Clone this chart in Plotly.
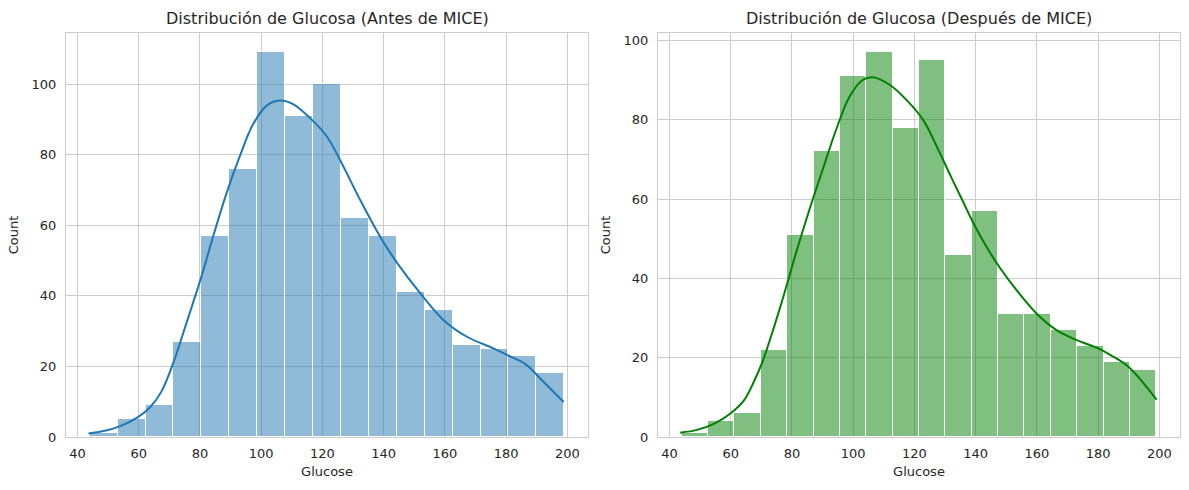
import numpy as np
import plotly.graph_objects as go

# ---- Data ----
glucose_min = 44
glucose_max = 199

counts_before = [1, 5, 9, 27, 57, 76, 109, 91, 100, 62, 57, 41, 36, 26, 25, 23, 18]
counts_after = [1, 4, 6, 22, 51, 72, 91, 97, 78, 95, 46, 57, 31, 31, 27, 23, 19, 17]

kde_before_x = [43.6, 48.6, 54.0, 59.5, 63.8, 67.5, 71.5, 75.6, 80.5, 84.3, 88.7, 93.0, 97.3,
                101.7, 106.0, 110.4, 115.9, 121.4, 126.8, 132.3, 139.5, 144.5, 152.0, 159.6,
                167.2, 175.9, 180.4, 186.1, 191.7, 198.8]
kde_before_y = [1.0, 1.7, 3.1, 5.5, 8.5, 13.0, 21.5, 32.3, 45.5, 56.8, 69.1, 79.5, 88.5,
                93.8, 95.3, 94.3, 90.4, 85.2, 76.7, 67.2, 55.8, 49.2, 40.7, 33.1,
                28.4, 25.1, 23.2, 20.8, 16.1, 9.9]

kde_after_x = [43.5, 49.0, 54.5, 60.0, 64.4, 67.6, 70.4, 72.6, 76.9, 81.3, 85.7, 90.0, 94.4,
               98.8, 103.1, 106.4, 111.9, 117.4, 122.8, 127.2, 131.6, 135.9, 139.1, 143.5,
               147.8, 153.3, 159.8, 166.3, 172.8, 179.9, 184.2, 189.9, 199.1]
kde_after_y = [1.1, 1.8, 3.3, 6.0, 9.3, 14.0, 19.0, 24.0, 34.6, 46.3, 57.3, 67.3, 77.4,
               85.8, 90.0, 90.7, 88.8, 85.0, 80.0, 73.4, 66.2, 59.3, 54.2, 48.0,
               42.8, 37.1, 31.2, 27.0, 24.5, 22.4, 20.6, 17.7, 9.4]

x_ticks = [40, 60, 80, 100, 120, 140, 160, 180, 200]
y_ticks = [0, 20, 40, 60, 80, 100]

titles = ["Distribución de Glucosa (Antes de MICE)", "Distribución de Glucosa (Después de MICE)"]
x_label = "Glucose"
y_label = "Count"

# ---- Figure ----
W, H = 1189, 490
TXT = "#262626"
GRID = "#cccccc"
FONT = "DejaVu Sans"


def hist_bars(counts, fill):
    edges = np.linspace(glucose_min, glucose_max, len(counts) + 1)
    centers = (edges[:-1] + edges[1:]) / 2
    width = edges[1] - edges[0]
    return go.Bar(x=centers, y=counts, width=width,
                  marker=dict(color=fill, line=dict(color="white", width=1)),
                  showlegend=False)


fig = go.Figure()
fig.add_trace(hist_bars(counts_before, "rgba(31,119,180,0.5)"))
fig.data[-1].update(xaxis="x", yaxis="y")
fig.add_trace(go.Scatter(x=kde_before_x, y=kde_before_y, mode="lines",
                         line=dict(color="#1f77b4", width=2, shape="spline", smoothing=1.0),
                         showlegend=False, xaxis="x", yaxis="y"))
fig.add_trace(hist_bars(counts_after, "rgba(0,128,0,0.5)"))
fig.data[-1].update(xaxis="x2", yaxis="y2")
fig.add_trace(go.Scatter(x=kde_after_x, y=kde_after_y, mode="lines",
                         line=dict(color="#008000", width=2, shape="spline", smoothing=1.0),
                         showlegend=False, xaxis="x2", yaxis="y2"))

xr = [glucose_min - 0.05 * (glucose_max - glucose_min), glucose_max + 0.05 * (glucose_max - glucose_min)]
ydom = [(H - 437) / H, (H - 33) / H]
left_dom = [66 / W, 588 / W]
right_dom = [658 / W, 1180 / W]

axis_common = dict(showgrid=True, gridcolor=GRID, gridwidth=1, showline=True, mirror=True,
                   linecolor=GRID, linewidth=1, zeroline=False, ticks="", automargin=False,
                   tickfont=dict(family=FONT, size=13, color=TXT))

fig.update_layout(
    width=W, height=H, margin=dict(l=0, r=0, t=0, b=0, autoexpand=False),
    plot_bgcolor="white", paper_bgcolor="white", bargap=0,
    font=dict(family=FONT, color=TXT),
    xaxis=dict(domain=left_dom, anchor="y", range=xr, tickvals=x_ticks,
               title=dict(text=x_label, font=dict(family=FONT, size=13, color=TXT), standoff=7),
               ticklabelstandoff=4, **axis_common),
    yaxis=dict(domain=ydom, anchor="x", range=[0, max(counts_before) * 1.05], tickvals=y_ticks,
               title=dict(text=y_label, font=dict(family=FONT, size=13, color=TXT), standoff=10),
               ticklabelstandoff=6, **axis_common),
    xaxis2=dict(domain=right_dom, anchor="y2", range=xr, tickvals=x_ticks,
                title=dict(text=x_label, font=dict(family=FONT, size=13, color=TXT), standoff=7),
                ticklabelstandoff=4, **axis_common),
    yaxis2=dict(domain=ydom, anchor="x2", range=[0, max(counts_after) * 1.05], tickvals=y_ticks,
                title=dict(text=y_label, font=dict(family=FONT, size=13, color=TXT), standoff=10),
                ticklabelstandoff=6, **axis_common),
)

for dom, t in zip([left_dom, right_dom], titles):
    fig.add_annotation(text=t, x=(dom[0] + dom[1]) / 2, y=(H - 18) / H, xref="paper", yref="paper",
                       showarrow=False, xanchor="center", yanchor="middle",
                       font=dict(family=FONT, size=16, color=TXT))

fig.write_html("out.html")
